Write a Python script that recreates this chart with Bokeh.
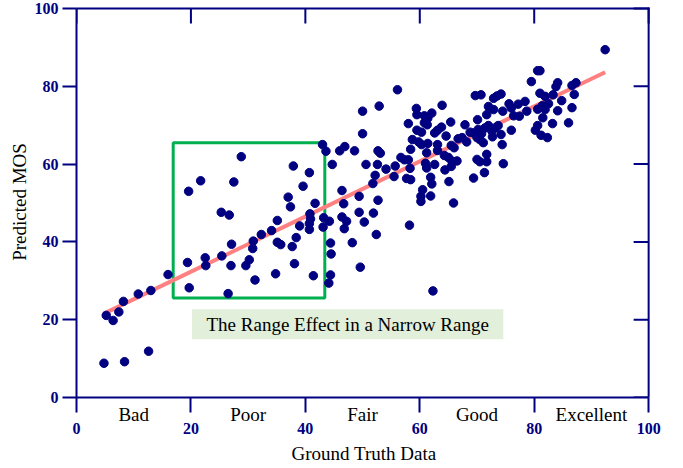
from bokeh.plotting import figure
from bokeh.models import Range1d, FixedTicker, LinearAxis
from bokeh.core.properties import value
from bokeh.embed import file_html
from bokeh.resources import INLINE

# ---- data ----
ground_truth = [
    4.8, 8.4, 12.6, 5.2, 6.4, 7.4, 8.2, 10.8, 13.0, 16.0, 19.7, 19.4, 19.6, 21.7, 22.5, 22.6,
    25.3, 26.7, 25.4, 27.0, 27.1, 27.5, 26.5, 28.8, 29.6, 30.2,
    30.9, 30.8, 31.2, 32.3, 34.1, 35.1, 35.1, 35.7, 34.8, 37.0, 37.4, 37.9, 37.7, 38.1, 38.4,
    39.0, 39.6, 40.7, 40.8, 40.9, 40.7, 40.7, 41.7, 41.4, 43.0, 43.6, 43.2, 44.2, 43.1, 44.4,
    44.5, 44.4, 44.1, 44.7, 46.0, 46.9, 46.4, 46.7, 46.4, 47.2, 46.8, 48.2, 48.6, 49.4, 49.4,
    50.3, 49.6, 50.0, 50.0, 50.6, 51.8, 52.2, 51.9, 52.4, 52.7, 52.6, 52.7, 53.1, 52.9, 54.1,
    56.1, 69.7, 70.7, 72.9, 73.5, 74.2, 72.0, 72.9, 71.7, 75.6, 76.0, 74.5, 63.9, 59.4, 59.5,
    60.8, 61.4, 62.1, 60.8, 61.3, 58.0, 65.4, 67.9, 70.1, 59.5, 60.3, 62.6, 63.1, 63.8, 64.6,
    58.7, 59.8, 60.3, 61.4, 63.1, 66.7, 67.4, 68.2, 68.8, 69.4, 70.2, 70.8, 71.4, 72.0, 72.6,
    73.2, 73.7, 71.1, 72.7, 74.2, 76.0, 74.4, 70.0, 70.5, 65.5, 66.0, 58.4, 61.2, 63.1, 64.3,
    65.0, 56.7, 57.3, 58.0, 61.0, 61.2, 62.6, 65.6, 66.5, 65.5, 64.4, 70.0, 70.5, 71.7, 71.7,
    74.6, 55.7, 58.3, 55.5, 57.7, 58.4, 61.9, 62.1, 65.1, 69.4, 71.3, 60.5, 60.2, 60.2, 61.9,
    65.9, 58.2, 62.3,
    92.4, 80.6, 81.0, 79.5, 84.1, 83.8, 87.3, 86.6, 87.0, 81.0, 81.9, 83.3, 84.8, 82.5, 81.4,
    86.6, 84.1, 80.6, 81.9, 81.5, 83.2, 86.0, 80.6, 80.2, 81.2, 82.3, 78.4, 77.2, 78.7, 77.4, 76.4,
]
predicted_mos = [
    8.8, 9.2, 11.9, 21.1, 19.8, 22.0, 24.7, 26.6, 27.5, 31.6, 28.2, 34.7, 53.0, 55.7, 35.9, 33.9,
    47.6, 46.9, 36.4, 33.9, 39.4, 55.4, 26.7, 61.9, 33.9, 35.4,
    40.2, 38.3, 30.2, 41.9, 42.9, 45.5, 39.9, 39.3, 31.8, 51.5, 49.0, 59.5, 38.8, 34.4, 41.1,
    44.1, 54.3, 57.8, 47.2, 45.9, 44.7, 43.2, 49.9, 31.3, 65.0, 63.3, 46.2, 45.3, 43.8, 39.7,
    36.9, 31.5, 29.4, 59.9, 63.4, 64.5, 53.2, 49.8, 46.4, 45.3, 43.4, 39.8, 63.4, 51.7, 47.6,
    45.1, 33.5, 73.6, 67.8, 59.9, 55.0, 57.1, 47.4, 41.9, 50.7, 59.9, 63.4, 62.8, 74.9, 58.7,
    79.1, 77.6, 77.8, 76.9, 77.5, 78.0, 74.8, 74.0, 72.7, 75.5, 74.4, 73.6, 75.1, 74.3, 72.7,
    72.4, 71.8, 73.1, 70.6, 70.1, 70.4, 70.8, 70.1, 71.4, 68.7, 68.2, 68.0, 68.7, 69.5, 67.2,
    66.3, 65.7, 65.0, 65.3, 65.0, 66.5, 66.8, 65.7, 68.2, 68.0, 68.9, 67.8, 69.3, 69.9, 68.5,
    69.3, 69.9, 65.5, 67.0, 67.6, 68.7, 65.0, 66.8, 66.3, 64.8, 64.2, 63.8, 62.9, 63.5, 62.2,
    61.7, 61.7, 61.1, 61.1, 60.2, 59.0, 59.9, 60.8, 60.8, 59.4, 58.5, 61.2, 60.6, 60.6, 62.5,
    60.1, 59.5, 58.9, 56.8, 56.3, 56.0, 56.6, 54.9, 55.5, 56.4, 57.8, 53.4, 51.7, 50.4, 51.8,
    50.0, 44.3, 27.4,
    89.4, 84.0, 84.0, 81.2, 80.9, 79.9, 80.9, 80.2, 77.9, 78.2, 77.4, 77.8, 76.3, 75.5, 75.0,
    74.5, 73.7, 74.1, 74.0, 71.9, 70.4, 70.6, 69.9, 68.7, 67.4, 66.8, 76.1, 75.4, 73.6, 72.3, 72.4,
]

fit_x = [4.7, 92.4]
fit_y = [21.5, 83.6]

box_x = [16.9, 43.4]
box_y = [25.6, 65.5]

note_x = [20.2, 74.6]
note_y = [15.0, 22.7]
note_text = "The Range Effect in a Narrow Range"

ticks = [0, 20, 40, 60, 80, 100]
quality_pos = [10, 30, 50, 70, 90]
quality_labels = ["Bad", "Poor", "Fair", "Good", "Excellent"]

# ---- styling / layout ----
NAVY = "#000080"
SERIF = "Liberation Serif"
FRAME_W, FRAME_H = 575, 391
X_START, X_END = 0.0, 100.5
Y_START, Y_END = 0.0, 100.5
TICK_PX = 15
tx = TICK_PX * (X_END - X_START) / FRAME_W
ty = TICK_PX * (Y_END - Y_START) / FRAME_H
lo, hi = ticks[0], ticks[-1]

p = figure(frame_width=FRAME_W, frame_height=FRAME_H, output_backend="svg",
           toolbar_location=None,
           x_range=Range1d(X_START, X_END), y_range=Range1d(Y_START, Y_END),
           min_border_left=76, min_border_right=32, min_border_top=6, min_border_bottom=71,
           x_axis_label="Ground Truth Data", y_axis_label="Predicted MOS")
p.outline_line_color = None
p.xgrid.visible = False
p.ygrid.visible = False

ya = p.yaxis[0]
xa = p.xaxis[0]
for ax, tout, standoff, lstand in ((ya, 14, 4, 2), (xa, 15, 10, 6)):
    ax.ticker = FixedTicker(ticks=ticks)
    ax.bounds = (lo, hi)
    ax.axis_line_color = NAVY
    ax.axis_line_width = 2
    ax.major_tick_line_color = NAVY
    ax.major_tick_line_width = 2
    ax.major_tick_in = 0
    ax.major_tick_out = tout
    ax.minor_tick_line_color = None
    ax.major_label_standoff = standoff
    ax.axis_label_standoff = lstand
    ax.major_label_text_font = SERIF
    ax.major_label_text_font_style = "bold"
    ax.major_label_text_color = NAVY
    ax.major_label_text_font_size = "16px"
    ax.axis_label_text_font = SERIF
    ax.axis_label_text_font_style = "normal"
    ax.axis_label_text_color = "black"
    ax.axis_label_text_font_size = "19px"

# second bottom axis: quality categories, pulled up between the ticks
qa = LinearAxis(ticker=FixedTicker(ticks=quality_pos),
                major_label_overrides={q: s for q, s in zip(quality_pos, quality_labels)})
qa.axis_line_color = None
qa.major_tick_line_color = None
qa.minor_tick_line_color = None
qa.major_tick_in = 0
qa.major_tick_out = 0
qa.major_label_standoff = -63
qa.major_label_text_font = SERIF
qa.major_label_text_font_style = "normal"
qa.major_label_text_color = "black"
qa.major_label_text_font_size = "19px"
p.add_layout(qa, "below")

# green box
p.quad(left=box_x[0], right=box_x[1], bottom=box_y[0], top=box_y[1],
       fill_color=None, line_color="#00B050", line_width=3)

# note box
p.quad(left=note_x[0], right=note_x[1], bottom=note_y[0], top=note_y[1],
       fill_color="#E2EFDA", line_color=None)
p.text(x=[(note_x[0] + note_x[1]) / 2], y=[(note_y[0] + note_y[1]) / 2], text=[note_text],
       text_font=value(SERIF), text_font_size="19px", text_color="black",
       text_align="center", text_baseline="middle")

# regression line
p.line(fit_x, fit_y, line_color="#FF8080", line_width=4)

# points
p.scatter(ground_truth, predicted_mos, size=8.5, fill_color=NAVY, line_color=NAVY)

# top and right frame lines with inward ticks
n = len(ticks)
p.segment(x0=[lo, hi], y0=[hi, lo], x1=[hi, hi], y1=[hi, hi],
          line_color=NAVY, line_width=2, line_cap="square")
p.segment(x0=ticks, y0=[hi] * n, x1=ticks, y1=[hi - ty] * n, line_color=NAVY, line_width=2)
p.segment(x0=[hi] * n, y0=ticks, x1=[hi - tx] * n, y1=ticks, line_color=NAVY, line_width=2)

open("out.html", "w").write(file_html(p, INLINE))
